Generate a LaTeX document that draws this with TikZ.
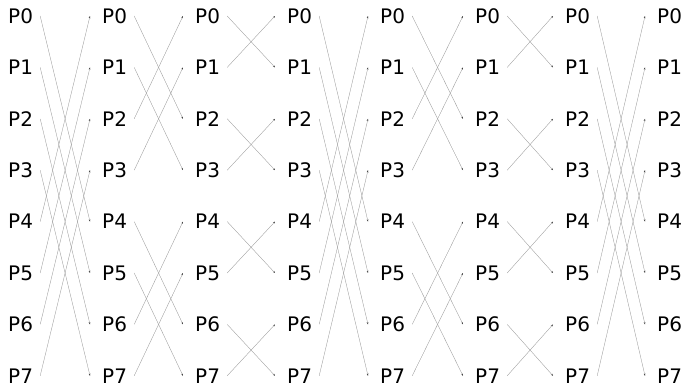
\documentclass[tikz,border=0pt]{standalone}
\usepackage{fontspec}
\setmainfont{DejaVu Sans}
\usetikzlibrary{arrows.meta}
\begin{document}
\begin{tikzpicture}[x=1pt,y=-1pt,
  lbl/.style={anchor=west,inner sep=0pt,font=\fontsize{20}{24}\selectfont},
  link/.style={draw=black!40,line width=0.35pt,-{Stealth[length=2.2pt,width=1.6pt,black!75]}}]
\useasboundingbox (0,0) rectangle (685,388);
\foreach \k/\x in {0/8,1/102,2/195,3/287,4/380,5/475,6/565,7/657}{
  \foreach \i in {0,...,7}{
    \node[lbl] (c\k-\i) at (\x,{16+51.4*\i}) {P\i};
  }
}
\foreach \k/\d in {0/4,1/2,2/1,3/4,4/2,5/1,6/4}{
  \pgfmathtruncatemacro\kk{\k+1}
  \foreach \i in {0,...,7}{
    \pgfmathtruncatemacro\j{mod(floor(\i/\d),2)==0 ? \i+\d : \i-\d}
    \draw[link] ([xshift=7pt]c\k-\i.east) -- ([xshift=-12pt]c\kk-\j.west);
  }
}
\end{tikzpicture}
\end{document}
